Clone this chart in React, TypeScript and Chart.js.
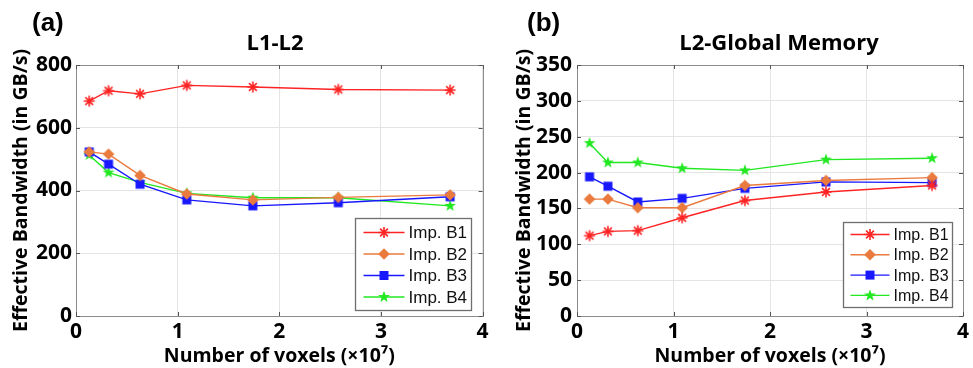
import React, { useEffect, useRef } from 'react';
import { Chart, registerables } from 'chart.js';
Chart.register(...registerables);

// ---------- data ----------
const voxels = [0.13, 0.32, 0.63, 1.09, 1.74, 2.58, 3.68];
const seriesNames = ['Imp. B1', 'Imp. B2', 'Imp. B3', 'Imp. B4'];
const l1l2B1 = [685, 718, 708, 735, 730, 722, 720];
const l1l2B2 = [523, 516, 448, 389, 370, 378, 386];
const l1l2B3 = [523, 484, 420, 370, 351, 361, 380];
const l1l2B4 = [513, 457, 426, 391, 377, 377, 351];
const gmB1 = [112, 118, 119, 137, 161, 173, 182];
const gmB2 = [163, 163, 151, 151, 182, 189, 193];
const gmB3 = [194, 181, 159, 164, 178, 187, 186];
const gmB4 = [241, 214, 214, 206, 203, 218, 220];
const xTicks = [0, 1, 2, 3, 4];
const l1l2YTicks = [0, 200, 400, 600, 800];
const gmYTicks = [0, 50, 100, 150, 200, 250, 300, 350];

const colors = ['#ff2424', '#ea7a3e', '#1818ff', '#22e822'];
const markers = ['asterisk', 'diamond', 'square', 'pentagram'];

const SANS = '"Open Sans", "Liberation Sans", sans-serif';
const ARIAL = '"Liberation Sans", Arial, sans-serif';

function drawMarker(ctx: CanvasRenderingContext2D, kind: string, x: number, y: number, color: string) {
  ctx.save();
  ctx.fillStyle = color;
  ctx.strokeStyle = color;
  if (kind === 'asterisk') {
    const r = 5.5;
    ctx.lineWidth = 1.6;
    ctx.beginPath();
    for (let i = 0; i < 4; i++) {
      const a = (i * Math.PI) / 4;
      ctx.moveTo(x - r * Math.cos(a), y - r * Math.sin(a));
      ctx.lineTo(x + r * Math.cos(a), y + r * Math.sin(a));
    }
    ctx.stroke();
  } else if (kind === 'diamond') {
    const r = 5.8;
    ctx.beginPath();
    ctx.moveTo(x, y - r);
    ctx.lineTo(x + r, y);
    ctx.lineTo(x, y + r);
    ctx.lineTo(x - r, y);
    ctx.closePath();
    ctx.fill();
  } else if (kind === 'square') {
    const r = 4.5;
    ctx.fillRect(x - r, y - r, 2 * r, 2 * r);
  } else {
    const R = 6.2, r = 2.5;
    ctx.beginPath();
    for (let i = 0; i < 10; i++) {
      const rad = i % 2 === 0 ? R : r;
      const a = -Math.PI / 2 + (i * Math.PI) / 5;
      const px = x + rad * Math.cos(a), py = y + rad * Math.sin(a);
      if (i === 0) ctx.moveTo(px, py); else ctx.lineTo(px, py);
    }
    ctx.closePath();
    ctx.fill();
  }
  ctx.restore();
}

function markerImage(kind: string, color: string) {
  const c = document.createElement('canvas');
  c.width = 14;
  c.height = 14;
  const ctx = c.getContext('2d')!;
  drawMarker(ctx, kind, 7, 7, color);
  return c;
}

type PanelProps = {
  left: number;
  width: number;
  tag: string;
  tagX: number;
  title: string;
  titleX: number;
  series: number[][];
  yTicks: number[];
  yWidth: number;
  yTitlePad: number;
  tickPad: number;
  rightPad: number;
  legend: { inR: number; inB: number; w: number; h: number; font: number; l0: number; l1: number; tx: number; r0: number; dy: number };
};

function Panel(p: PanelProps) {
  const ref = useRef<HTMLCanvasElement>(null);
  useEffect(() => {
    const canvas = ref.current!;
    const decor = {
      id: 'decor',
      afterDraw(chart: any) {
        const ctx: CanvasRenderingContext2D = chart.ctx;
        const ca = chart.chartArea;
        const xs = chart.scales.x, ys = chart.scales.y;
        ctx.save();
        // box
        ctx.strokeStyle = '#8c8c8c';
        ctx.lineWidth = 1;
        ctx.strokeRect(Math.round(ca.left) + 0.5, Math.round(ca.top) + 0.5, Math.round(ca.right - ca.left), Math.round(ca.bottom - ca.top));
        // inward ticks
        ctx.strokeStyle = '#555';
        ctx.beginPath();
        xTicks.forEach((t) => {
          const px = Math.round(xs.getPixelForValue(t)) + 0.5;
          ctx.moveTo(px, ca.bottom); ctx.lineTo(px, ca.bottom - 4);
          ctx.moveTo(px, ca.top); ctx.lineTo(px, ca.top + 4);
        });
        p.yTicks.forEach((t) => {
          const py = Math.round(ys.getPixelForValue(t)) + 0.5;
          ctx.moveTo(ca.left, py); ctx.lineTo(ca.left + 4, py);
          ctx.moveTo(ca.right, py); ctx.lineTo(ca.right - 4, py);
        });
        ctx.stroke();
        // title and tag
        ctx.fillStyle = '#000';
        ctx.textBaseline = 'middle';
        ctx.textAlign = 'center';
        ctx.font = `bold 22px ${SANS}`;
        ctx.fillText(p.title, p.titleX, 44);
        ctx.textAlign = 'left';
        ctx.font = `bold 26px ${ARIAL}`;
        ctx.fillText(p.tag, p.tagX, 24);
        // legend
        const L = p.legend;
        const bx = Math.round(ca.right - L.inR - L.w) + 0.5;
        const by = Math.round(ca.bottom - L.inB - L.h) + 0.5;
        ctx.fillStyle = '#fff';
        ctx.fillRect(bx, by, L.w, L.h);
        ctx.strokeStyle = '#6e6e6e';
        ctx.lineWidth = 1.3;
        ctx.strokeRect(bx, by, L.w, L.h);
        ctx.font = `${L.font}px ${ARIAL}`;
        seriesNames.forEach((name, i) => {
          const cy = by + L.r0 + i * L.dy;
          ctx.strokeStyle = colors[i];
          ctx.lineWidth = 1.4;
          ctx.beginPath();
          ctx.moveTo(bx + L.l0, cy);
          ctx.lineTo(bx + L.l1, cy);
          ctx.stroke();
          drawMarker(ctx, markers[i], bx + (L.l0 + L.l1) / 2, cy, colors[i]);
          ctx.fillStyle = '#111';
          ctx.textAlign = 'left';
          ctx.fillText(name, bx + L.tx, cy + 1);
        });
        ctx.restore();
      },
    };
    const chart = new Chart(canvas, {
      type: 'line',
      data: {
        datasets: p.series.map((vals, i) => ({
          label: seriesNames[i],
          data: voxels.map((v, j) => ({ x: v, y: vals[j] })),
          borderColor: colors[i],
          backgroundColor: colors[i],
          borderWidth: 1.4,
          pointStyle: markerImage(markers[i], colors[i]) as any,
          pointRadius: 6,
          tension: 0,
        })),
      },
      options: {
        responsive: false,
        animation: false,
        devicePixelRatio: 1,
        layout: { padding: { left: 0, top: 65, right: p.rightPad, bottom: 0 } },
        plugins: { legend: { display: false }, tooltip: { enabled: false }, title: { display: false } },
        scales: {
          x: {
            type: 'linear',
            min: 0,
            max: 4,
            afterBuildTicks: (s: any) => { s.ticks = xTicks.map((v) => ({ value: v })); },
            afterFit: (s: any) => { s.height = 52; s.paddingLeft = 0; s.paddingRight = 0; },
            ticks: { color: '#000', font: { family: SANS, size: 21, weight: 'bold' }, padding: 3, maxRotation: 0 },
            grid: { color: '#e4e4e4', drawTicks: false, lineWidth: 1 },
            border: { display: false },
            title: { display: true, text: 'Number of voxels (×10⁷)', color: '#000', font: { family: SANS, size: 19.5, weight: 'bold' }, padding: { top: 0, bottom: 0 } },
          },
          y: {
            type: 'linear',
            min: p.yTicks[0],
            max: p.yTicks[p.yTicks.length - 1],
            afterBuildTicks: (s: any) => { s.ticks = p.yTicks.map((v) => ({ value: v })); },
            afterFit: (s: any) => { s.width = p.yWidth; s.paddingTop = 0; s.paddingBottom = 0; },
            ticks: { color: '#000', font: { family: SANS, size: 21, weight: 'bold' }, padding: p.tickPad },
            grid: { color: '#e4e4e4', drawTicks: false, lineWidth: 1 },
            border: { display: false },
            title: { display: true, text: 'Effective Bandwidth (in GB/s)', color: '#000', font: { family: SANS, size: 19.5, weight: 'bold' }, padding: { top: p.yTitlePad, bottom: 0 } },
          },
        },
      } as any,
      plugins: [decor],
    });
    return () => chart.destroy();
  }, []);
  return (
    <canvas
      ref={ref}
      width={p.width}
      height={368}
      style={{ position: 'absolute', left: p.left, top: 0, width: p.width, height: 368 }}
    />
  );
}

export default function App() {
  return (
    <div style={{ position: 'fixed', left: 0, top: 0, width: 973, height: 368, background: '#fff', overflow: 'hidden' }}>
      <Panel
        left={0}
        width={490}
        tag="(a)"
        tagX={32}
        title="L1-L2"
        titleX={275}
        series={[l1l2B1, l1l2B2, l1l2B3, l1l2B4]}
        yTicks={l1l2YTicks}
        yWidth={76}
        yTitlePad={10}
        tickPad={4}
        rightPad={3}
        legend={{ inR: 12, inB: 6, w: 116, h: 92, font: 17, l0: 8, l1: 49, tx: 53, r0: 14, dy: 21.5 }}
      />
      <Panel
        left={490}
        width={483}
        tag="(b)"
        tagX={37}
        title="L2-Global Memory"
        titleX={289}
        series={[gmB1, gmB2, gmB3, gmB4]}
        yTicks={gmYTicks}
        yWidth={87}
        yTitlePad={23}
        tickPad={5}
        rightPad={10}
        legend={{ inR: 11, inB: 9, w: 109, h: 85, font: 16, l0: 7, l1: 46, tx: 50, r0: 12, dy: 20.3 }}
      />
    </div>
  );
}
